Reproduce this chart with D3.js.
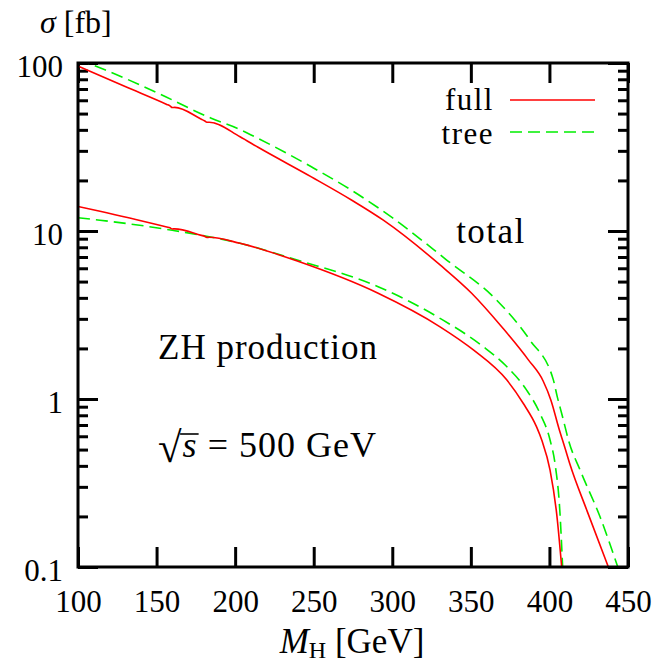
<!DOCTYPE html>
<html>
<head>
<meta charset="utf-8">
<script src="https://cdn.jsdelivr.net/npm/d3@7"></script>
<style>
  body { margin: 0; background: #fff; }
  svg { display: block; }
</style>
</head>
<body>
<svg width="668" height="665"></svg>
<script>
// x ticks / y ticks
const xTicks = [100, 150, 200, 250, 300, 350, 400, 450];
const yTicks = [0.1, 1, 10, 100];
const yLabels = ["0.1", "1", "10", "100"];

// total cross section, full (red)
const fullTotalM = [100, 130, 156.5, 158.5, 160, 161.5, 178.5, 180.5, 182, 183.5, 203.1, 214.6, 248.5, 274, 294.3, 330.4, 350.5, 369.6, 386.6, 396, 401, 406, 410, 413, 424, 437.5];
const fullTotalSigma = [96, 72.4, 56.7, 55.6, 54.3, 54.4, 46.3, 45.3, 44.4, 44.4, 36.4, 31.5, 21.0, 15.3, 11.6, 6.28, 4.26, 2.69, 1.71, 1.28, 0.98, 0.67, 0.507, 0.41, 0.215, 0.1];

// total cross section, tree (green)
const treeTotalM = [100, 117.5, 150.9, 184.8, 203.1, 214.6, 248.5, 274, 300, 334.6, 366.4, 387.6, 402.5, 405, 407.8, 410, 412.1, 419.5, 432.2, 443.5];
const treeTotalSigma = [105, 90.8, 66.1, 46.9, 40.2, 35.6, 24.1, 17.5, 12.0, 6.72, 3.88, 2.24, 1.30, 1.03, 0.82, 0.68, 0.57, 0.378, 0.199, 0.1];

// ZH production, full (red)
const fullZhM = [100, 114, 156.5, 158.5, 160, 161.5, 178.5, 180.5, 182, 183.5, 203.1, 240, 291, 330.4, 351.6, 372.8, 383.4, 391.9, 395.1, 400.4, 404.6, 407.8];
const fullZhSigma = [14.0, 13.1, 10.56, 10.45, 10.28, 10.3, 9.42, 9.31, 9.16, 9.17, 8.45, 6.6, 4.26, 2.69, 1.96, 1.30, 0.94, 0.68, 0.57, 0.377, 0.208, 0.1];

// ZH production, tree (green)
const treeZhM = [100, 114, 160, 203.1, 240, 291, 330.4, 357.9, 372.8, 385.5, 394, 400.4, 403.6, 406.7, 408.4];
const treeZhSigma = [12.0, 11.6, 10.1, 8.45, 6.7, 4.66, 3.02, 2.05, 1.56, 1.13, 0.82, 0.57, 0.41, 0.21, 0.1];

// find a serif face that is really installed, sizes below assume Times-like widths
function pickSerif() {
  let ctx = document.createElement("canvas").getContext("2d");
  let sample = "ZH production 0123";
  ctx.font = "100px monospace";
  let base = ctx.measureText(sample).width;
  let names = ["Liberation Serif", "Tinos", "Times New Roman", "Nimbus Roman", "FreeSerif", "DejaVu Serif", "Noto Serif"];
  for (let f of names) {
    ctx.font = `100px "${f}", monospace`;
    if (ctx.measureText(sample).width !== base) {
      let zh = ctx.measureText("ZH production").width;
      return { family: `"${f}", serif`, k: 591.6 / zh };
    }
  }
  return { family: "serif", k: 1 };
}
let serif = pickSerif();
let fs = v => v * serif.k;

let svg = d3.select("svg").style("font-family", serif.family);
let plotLeft = 78, plotRight = 628, plotTop = 63, plotBottom = 567;

let x = d3.scaleLinear().domain([100, 450]).range([plotLeft, plotRight]);
let y = d3.scaleLog().domain([0.1, 100]).range([plotBottom, plotTop]);

// minor ticks from the log scale itself
let yMinor = y.ticks().filter(d => !yTicks.includes(+d.toPrecision(3)));

function styleAxis(g) {
  g.attr("font-family", null).attr("font-size", null);
  g.select(".domain").remove();
  g.selectAll("line").attr("stroke", "#000").attr("stroke-width", 3);
  g.selectAll("text")
    .style("font-family", serif.family)
    .style("font-size", fs(31) + "px")
    .attr("fill", "#000");
}

// bottom + top
svg.append("g")
  .attr("transform", `translate(0,${plotBottom})`)
  .call(d3.axisBottom(x).tickValues(xTicks).tickSize(-20).tickPadding(23).tickFormat(d3.format("d")))
  .call(styleAxis);
svg.append("g")
  .attr("transform", `translate(0,${plotTop})`)
  .call(d3.axisTop(x).tickValues(xTicks).tickSize(-20).tickFormat(""))
  .call(styleAxis);

// left
svg.append("g")
  .attr("transform", `translate(${plotLeft},0)`)
  .call(d3.axisLeft(y).tickValues(yTicks).tickSize(-20).tickPadding(15).tickFormat((d, i) => yLabels[i]))
  .call(styleAxis)
  .selectAll("text").attr("dy", "0.42em");
svg.append("g")
  .attr("transform", `translate(${plotLeft},0)`)
  .call(d3.axisLeft(y).tickValues(yMinor).tickSize(-10).tickFormat(""))
  .call(styleAxis);

// right
svg.append("g")
  .attr("transform", `translate(${plotRight},0)`)
  .call(d3.axisRight(y).tickValues(yTicks).tickSize(-20).tickFormat(""))
  .call(styleAxis);
svg.append("g")
  .attr("transform", `translate(${plotRight},0)`)
  .call(d3.axisRight(y).tickValues(yMinor).tickSize(-10).tickFormat(""))
  .call(styleAxis);

// curves
svg.append("clipPath").attr("id", "plot-clip")
  .append("rect")
  .attr("x", plotLeft).attr("y", plotTop)
  .attr("width", plotRight - plotLeft).attr("height", plotBottom - plotTop);

let line = d3.line()
  .x(d => x(d[0]))
  .y(d => y(d[1]))
  .curve(d3.curveMonotoneX);

let series = [
  { m: treeTotalM, s: treeTotalSigma, color: "#00ee00", dash: "12,6" },
  { m: treeZhM, s: treeZhSigma, color: "#00ee00", dash: "12,6" },
  { m: fullTotalM, s: fullTotalSigma, color: "#ff0000", dash: null },
  { m: fullZhM, s: fullZhSigma, color: "#ff0000", dash: null }
];

svg.append("g")
  .attr("clip-path", "url(#plot-clip)")
  .selectAll("path")
  .data(series)
  .enter()
  .append("path")
  .attr("d", d => line(d.m.map((m, i) => [m, d.s[i]])))
  .attr("fill", "none")
  .attr("stroke", d => d.color)
  .attr("stroke-width", 1.6)
  .attr("stroke-dasharray", d => d.dash);

// frame
svg.append("rect")
  .attr("x", plotLeft).attr("y", plotTop)
  .attr("width", plotRight - plotLeft).attr("height", plotBottom - plotTop)
  .attr("fill", "none")
  .attr("stroke", "#000")
  .attr("stroke-width", 3);

// legend
let legend = svg.append("g").style("font-size", fs(31) + "px").attr("letter-spacing", 1.5);
legend.append("text").attr("x", 494).attr("y", 110).attr("text-anchor", "end").text("full");
legend.append("text").attr("x", 494).attr("y", 144).attr("text-anchor", "end").text("tree");
legend.append("line").attr("x1", 510).attr("x2", 595).attr("y1", 100).attr("y2", 100)
  .attr("stroke", "#ff0000").attr("stroke-width", 1.6);
legend.append("line").attr("x1", 510).attr("x2", 595).attr("y1", 132).attr("y2", 132)
  .attr("stroke", "#00ee00").attr("stroke-width", 1.6).attr("stroke-dasharray", "12,6");

// labels in the plot
svg.append("text").attr("x", 491).attr("y", 243).attr("text-anchor", "middle")
  .style("font-size", fs(35) + "px").attr("letter-spacing", 1.5).text("total");
svg.append("text").attr("x", 158).attr("y", 359)
  .style("font-size", fs(35) + "px").attr("letter-spacing", 1).text("ZH production");

let sq = svg.append("text").attr("x", 158).attr("y", 457).style("font-size", fs(36) + "px").attr("letter-spacing", 1);
sq.append("tspan").style("font-size", fs(43) + "px").attr("dy", 5).text("\u221A");
sq.append("tspan").attr("font-style", "italic").attr("dy", -5).text("s");
sq.append("tspan").text(" = 500 GeV");
let sqNode = sq.node();
let s1 = sqNode.getEndPositionOfChar(1).x;
let rootBox = sqNode.getExtentOfChar(0);
svg.append("line")
  .attr("x1", rootBox.x + rootBox.width - 2.5).attr("x2", s1 + 1)
  .attr("y1", 434).attr("y2", 434)
  .attr("stroke", "#000").attr("stroke-width", 1.6);

// axis titles
let xt = svg.append("text").attr("x", 352).attr("y", 653).attr("text-anchor", "middle").style("font-size", fs(35) + "px");
xt.append("tspan").attr("font-style", "italic").text("M");
xt.append("tspan").style("font-size", fs(24) + "px").attr("dy", 5).text("H");
xt.append("tspan").attr("dy", -5).text(" [GeV]");

let yt = svg.append("text").attr("x", 40).attr("y", 33).style("font-size", fs(32) + "px");
yt.append("tspan").attr("font-style", "italic").text("\u03C3");
yt.append("tspan").text(" [fb]");
</script>
</body>
</html>
